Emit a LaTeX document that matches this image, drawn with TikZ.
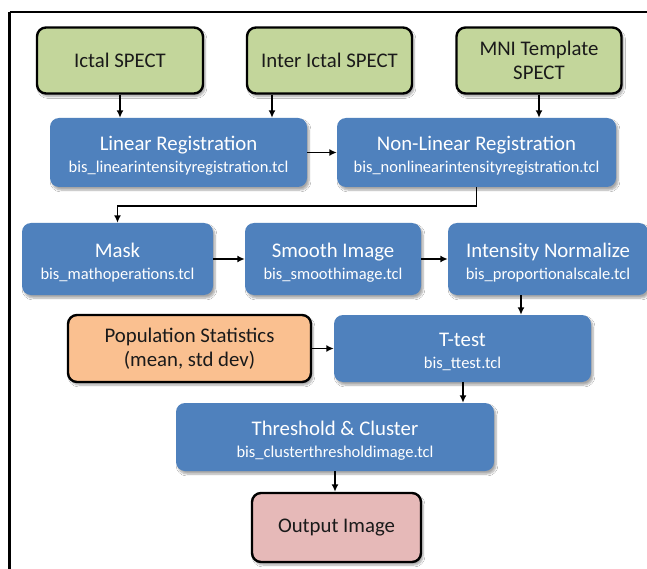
\documentclass[tikz,border=0pt]{standalone}
\usepackage{fontspec}
\setmainfont{Carlito}
\usetikzlibrary{arrows.meta,shadows.blur}
\definecolor{gfill}{HTML}{C3D69B}
\definecolor{bfill}{HTML}{4F81BD}
\definecolor{ofill}{HTML}{FAC090}
\definecolor{pfill}{HTML}{E6B9B8}
\definecolor{dtext}{HTML}{1A1A1A}
\newcommand{\tsub}[2]{{\fontsize{20.8}{22}\selectfont\rule{0pt}{21pt}#1}\\#2}
\tikzset{
  base/.style={rounded corners=9pt, align=center, inner sep=0pt,
    blur shadow={shadow xshift=2pt, shadow yshift=-3pt, shadow blur steps=6, shadow opacity=35}},
  inbox/.style={base, draw=black, line width=2.4pt, text=dtext, font=\fontsize{20.8}{24}\selectfont},
  greenbox/.style={inbox, fill=gfill},
  orangebox/.style={inbox, fill=ofill},
  pinkbox/.style={inbox, fill=pfill},
  procbox/.style={base, fill=bfill, text=white, font=\fontsize{16.5}{22}\selectfont},
  arr/.style={line width=1.5pt, -{Latex[length=7.5pt,width=7pt]}},
  frame/.style={line width=2.6pt}
}
\begin{document}
\begin{tikzpicture}[x=1pt,y=-1pt]
\useasboundingbox (0,0) rectangle (647,569);
\fill[white] (0,0) rectangle (647,569);
% frame
\draw[frame] (9.5,12) -- (647,12);
\draw[frame] (9.5,12) -- (9.5,569);
% input boxes
\node[greenbox, minimum width=166pt, minimum height=66pt] (ict) at (120,60.5) {Ictal SPECT};
\node[greenbox, minimum width=165pt, minimum height=66pt] (inter) at (329.5,60.5) {Inter Ictal SPECT};
\node[greenbox, minimum width=165pt, minimum height=66pt] (mni) at (539,60.5) {MNI Template\\SPECT};
% registration
\node[procbox, minimum width=257pt, minimum height=69pt] (lin) at (178.5,152.5)
  {\tsub{Linear Registration}{bis\_linearintensityregistration.tcl}};
\node[procbox, minimum width=279pt, minimum height=69pt] (nonlin) at (476.5,152.5)
  {\tsub{Non-Linear Registration}{bis\_nonlinearintensityregistration.tcl}};
% third row
\node[procbox, minimum width=191pt, minimum height=72pt] (mask) at (117.5,259)
  {\tsub{Mask}{bis\_mathoperations.tcl}};
\node[procbox, minimum width=176pt, minimum height=72pt] (smooth) at (333,259)
  {\tsub{Smooth Image}{bis\_smoothimage.tcl}};
\node[procbox, minimum width=200pt, minimum height=72pt] (intens) at (548,259)
  {\tsub{Intensity Normalize}{bis\_proportionalscale.tcl}};
% fourth row
\node[orangebox, minimum width=243pt, minimum height=67pt] (pop) at (189.5,348.5)
  {Population Statistics\\(mean, std dev)};
\node[procbox, minimum width=257pt, minimum height=67pt] (ttest) at (462.5,348.5)
  {\tsub{T-test}{bis\_ttest.tcl}};
% threshold
\node[procbox, minimum width=318pt, minimum height=68pt] (thr) at (335,437)
  {\tsub{Threshold \& Cluster}{bis\_clusterthresholdimage.tcl}};
\node[pinkbox, minimum width=169pt, minimum height=69pt] (out) at (336.5,527.5) {Output Image};
% helper coordinates
\coordinate (cx272) at (272,0);
\coordinate (cx521) at (521,0);
\coordinate (cx463) at (463,0);
% connectors
\draw[arr] (ict.south) -- (ict.south |- lin.north);
\draw[arr] (inter.south -| cx272) -- (cx272 |- lin.north);
\draw[arr] (mni.south) -- (mni.south |- nonlin.north);
\draw[arr] (lin.east) -- (nonlin.west);
\draw[arr] (nonlin.south) -- ++(0,19) -| (mask.north);
\draw[arr] (mask.east) -- (smooth.west);
\draw[arr] (smooth.east) -- (intens.west);
\draw[arr] (intens.south -| cx521) -- (cx521 |- ttest.north);
\draw[arr] (pop.east) -- (ttest.west);
\draw[arr] (ttest.south -| cx463) -- (cx463 |- thr.north);
\draw[arr] (thr.south) -- (thr.south |- out.north);
\end{tikzpicture}
\end{document}
